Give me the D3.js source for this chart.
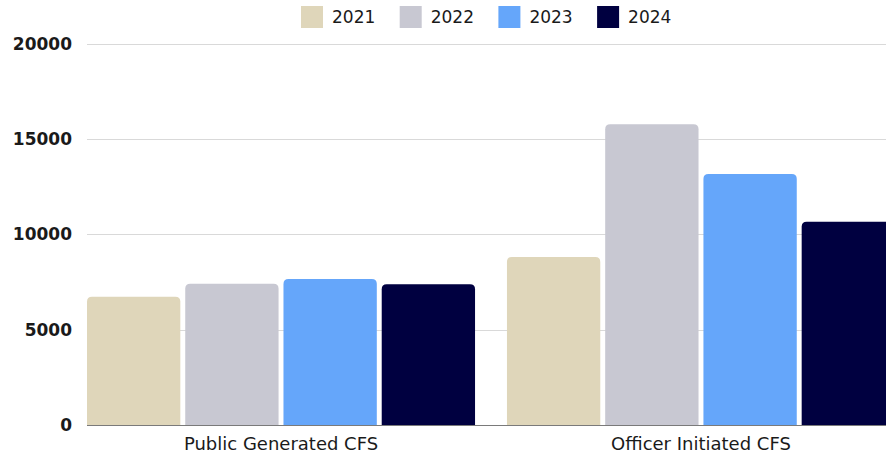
<!DOCTYPE html>
<html>
<head>
<meta charset="utf-8">
<script src="https://cdn.jsdelivr.net/npm/d3@7"></script>
<style>
  body { margin: 0; background: #fff; }
  svg { display: block; font-family: "DejaVu Sans", sans-serif; }
</style>
</head>
<body>
<svg id="chart" width="886" height="458"></svg>
<script>
// categories and series
var categories = ["Public Generated CFS", "Officer Initiated CFS"];
var years = ["2021", "2022", "2023", "2024"];
var v2021 = [6730, 8810];
var v2022 = [7410, 15770];
var v2023 = [7660, 13160];
var v2024 = [7380, 10660];
var yTicks = [0, 5000, 10000, 15000, 20000];

var series = [v2021, v2022, v2023, v2024];
var colors = ["#dfd6ba", "#c8c8d2", "#65a6fa", "#000040"];

var svg = d3.select("#chart");

// scales
var x0 = d3.scaleBand()
    .domain(categories)
    .range([87, 895])
    .paddingInner(0.076)
    .paddingOuter(0);

var x1 = d3.scaleBand()
    .domain(years)
    .range([0, x0.bandwidth()])
    .paddingInner(0.05);

var y = d3.scaleLinear()
    .domain([0, 20000])
    .range([425, 43.5]);

// gridlines
svg.append("g")
    .selectAll("line")
    .data(yTicks.filter(function(d) { return d > 0; }))
    .enter().append("line")
    .attr("x1", 87)
    .attr("x2", 886)
    .attr("y1", function(d) { return Math.round(y(d)) + 0.5; })
    .attr("y2", function(d) { return Math.round(y(d)) + 0.5; })
    .attr("stroke", "#d9d9d9")
    .attr("stroke-width", 1);

// y labels
svg.append("g")
    .selectAll("text")
    .data(yTicks)
    .enter().append("text")
    .attr("x", 72)
    .attr("y", function(d) { return y(d); })
    .attr("dy", "0.36em")
    .attr("text-anchor", "end")
    .attr("font-size", 17)
    .attr("font-weight", "bold")
    .attr("fill", "#1a1a1a")
    .text(function(d) { return d; });

// bars, rounded top corners
function barPath(x, yTop, w, h, r) {
    r = Math.min(r, h, w / 2);
    return "M" + x + "," + (yTop + h) +
        "V" + (yTop + r) +
        "Q" + x + "," + yTop + " " + (x + r) + "," + yTop +
        "H" + (x + w - r) +
        "Q" + (x + w) + "," + yTop + " " + (x + w) + "," + (yTop + r) +
        "V" + (yTop + h) + "Z";
}

var barData = [];
categories.forEach(function(c, i) {
    years.forEach(function(yr, j) {
        barData.push({ cat: c, year: yr, value: series[j][i], color: colors[j] });
    });
});

svg.append("g")
    .selectAll("path")
    .data(barData)
    .enter().append("path")
    .attr("d", function(d) {
        var bx = x0(d.cat) + x1(d.year);
        return barPath(bx, y(d.value), x1.bandwidth(), y(0) - y(d.value), 5);
    })
    .attr("fill", function(d) { return d.color; });

// baseline
svg.append("line")
    .attr("x1", 87)
    .attr("x2", 886)
    .attr("y1", y(0) + 0.5)
    .attr("y2", y(0) + 0.5)
    .attr("stroke", "#7a7a7a")
    .attr("stroke-width", 1);

// x labels
svg.append("g")
    .selectAll("text")
    .data(categories)
    .enter().append("text")
    .attr("x", function(d) { return x0(d) + x0.bandwidth() / 2; })
    .attr("y", 444)
    .attr("dy", "0.36em")
    .attr("text-anchor", "middle")
    .attr("font-size", 18)
    .attr("fill", "#1a1a1a")
    .text(function(d) { return d; });

// legend
var legend = svg.append("g")
    .selectAll("g")
    .data(years)
    .enter().append("g")
    .attr("transform", function(d, i) { return "translate(" + (301 + i * 98.7) + ",6)"; });

legend.append("rect")
    .attr("width", 22)
    .attr("height", 22)
    .attr("fill", function(d, i) { return colors[i]; });

legend.append("text")
    .attr("x", 31)
    .attr("y", 11)
    .attr("dy", "0.36em")
    .attr("font-size", 17)
    .attr("fill", "#1a1a1a")
    .text(function(d) { return d; });
</script>
</body>
</html>
